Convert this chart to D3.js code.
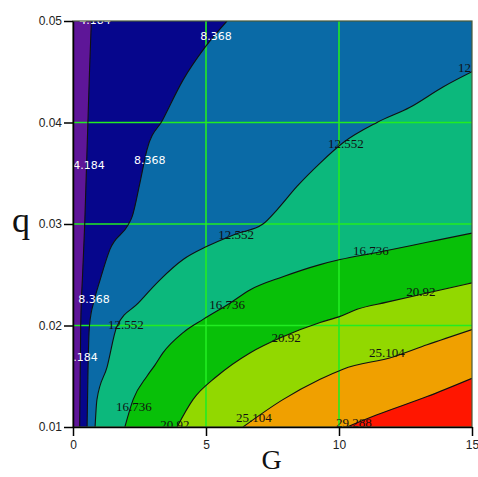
<!DOCTYPE html>
<html>
<head>
<meta charset="utf-8">
<script src="https://cdn.jsdelivr.net/npm/d3@7"></script>
<style>
  html, body { margin: 0; padding: 0; background: #fff; }
  svg { display: block; }
</style>
</head>
<body>
<svg id="chart" width="478" height="477"></svg>
<script>
// Contour levels of the field over (G, q)
const levels = [4.184, 8.368, 12.552, 16.736, 20.92, 25.104, 29.288];
// Fill of each band: below first level, between levels, above last level
const bandColors = ["#5e1698", "#06068c", "#0a6aa6", "#0cb87c", "#08c008", "#92d800", "#f0a000", "#ff1600"];

// Contour lines as [G, q] points, traced from the bottom edge upward/rightward
const c4184  = [[0.25,0.01],[0.27,0.015],[0.29,0.02],[0.36,0.025],[0.44,0.03],[0.50,0.035],[0.56,0.04],[0.62,0.045],[0.69,0.05]];
const c8368  = [[0.53,0.01],[0.56,0.015],[0.62,0.02],[0.80,0.0225],[1.02,0.0245],[1.39,0.0275],[2.07,0.0299],[2.22,0.0307],[2.52,0.0341],[2.78,0.0373],[3.38,0.0403],[4.14,0.0442],[4.96,0.0474],[5.79,0.05]];
const c12552 = [[0.83,0.01],[0.90,0.0127],[1.28,0.0159],[1.65,0.0199],[2.45,0.0222],[3.27,0.0245],[4.14,0.0265],[5.04,0.0278],[6.10,0.0290],[7.14,0.0300],[7.67,0.0314],[8.42,0.0337],[9.29,0.0360],[10.15,0.0380],[11.43,0.0400],[12.67,0.0415],[13.91,0.0435],[15,0.0450]];
const c16736 = [[1.95,0.01],[2.26,0.0127],[2.78,0.015],[3.08,0.0161],[3.38,0.0173],[4.14,0.0193],[4.89,0.0206],[5.90,0.0222],[6.65,0.0235],[7.89,0.0248],[9.29,0.0260],[10.04,0.0265],[11.43,0.0272],[13.31,0.0282],[15,0.0291]];
const c2092  = [[3.91,0.01],[4.51,0.0127],[5.41,0.015],[6.65,0.0173],[7.89,0.0189],[9.29,0.0203],[10.04,0.0209],[10.68,0.0216],[11.80,0.0223],[13.31,0.0232],[15,0.0242]];
const c25104 = [[6.39,0.01],[7.89,0.0127],[9.29,0.0147],[10.15,0.0157],[12.03,0.0169],[13.31,0.0181],[15,0.0196]];
const c29288 = [[10.30,0.01],[11.43,0.0112],[13.31,0.0130],[15,0.0148]];
const contours = [c4184, c8368, c12552, c16736, c2092, c25104, c29288];

// Inline contour labels: [level index, G, q]
const contourLabels = [
  [0, 0.83, 0.0501], [0, 0.60, 0.0358], [0, 0.34, 0.01683],
  [1, 5.38, 0.0485], [1, 2.89, 0.0363], [1, 0.79, 0.02254],
  [2, 15.15, 0.04537], [2, 10.26, 0.0379], [2, 6.13, 0.02894], [2, 1.99, 0.02008],
  [3, 11.20, 0.02736], [3, 5.79, 0.02205], [3, 2.29, 0.01201],
  [4, 13.08, 0.02333], [4, 8.01, 0.0188], [4, 3.83, 0.01024],
  [5, 11.80, 0.01732], [5, 6.80, 0.01093],
  [6, 10.56, 0.01043]
];

// Axis ticks
const gTicks = [0, 5, 10, 15];
const qTicks = [0.01, 0.02, 0.03, 0.04, 0.05];
const gDomain = [0, 15];
const qDomain = [0.01, 0.05];

const margin = { top: 21, right: 6, bottom: 50, left: 73 };
const W = 478, H = 477;
const iw = W - margin.left - margin.right;
const ih = H - margin.top - margin.bottom;

const svg = d3.select("#chart");
const g = svg.append("g").attr("transform", `translate(${margin.left},${margin.top})`);

const x = d3.scaleLinear().domain(gDomain).range([0, iw]);
const y = d3.scaleLinear().domain(qDomain).range([ih, 0]);

g.append("clipPath").attr("id", "plotClip")
  .append("rect").attr("x", 0).attr("y", 0).attr("width", iw).attr("height", ih);

const plot = g.append("g").attr("clip-path", "url(#plotClip)");

const line = d3.line()
  .x(d => x(d[0])).y(d => y(d[1]))
  .curve(d3.curveMonotoneX);

// Background band (lowest values)
plot.append("rect")
  .attr("x", 0).attr("y", 0).attr("width", iw).attr("height", ih)
  .attr("fill", bandColors[0]);

// Each higher band covers the region on the high-G / low-q side of its contour
contours.forEach((pts, i) => {
  const last = pts[pts.length - 1];
  let d = line(pts);
  if (last[1] >= qDomain[1]) {
    d += `L${x(gDomain[1])},${y(qDomain[1])}`;
  }
  d += `L${x(gDomain[1])},${y(qDomain[0])}Z`;
  plot.append("path").attr("d", d).attr("fill", bandColors[i + 1]);
});

// Grid
plot.append("g").selectAll("line").data(gTicks.slice(1, -1)).join("line")
  .attr("x1", d => x(d)).attr("x2", d => x(d))
  .attr("y1", 0).attr("y2", ih)
  .attr("stroke", "#22ec22").attr("stroke-width", 1.6);
plot.append("g").selectAll("line").data(qTicks.slice(1, -1)).join("line")
  .attr("y1", d => y(d)).attr("y2", d => y(d))
  .attr("x1", 0).attr("x2", iw)
  .attr("stroke", "#22ec22").attr("stroke-width", 1.6);

// Contour lines
plot.append("g").selectAll("path").data(contours).join("path")
  .attr("d", line)
  .attr("fill", "none")
  .attr("stroke", "#111")
  .attr("stroke-width", 1.1);

// Contour labels
plot.append("g").selectAll("text").data(contourLabels).join("text")
  .attr("x", d => x(d[1]))
  .attr("y", d => y(d[2]))
  .attr("text-anchor", "middle")
  .attr("dominant-baseline", "central")
  .attr("font-family", d => d[0] < 2 ? "DejaVu Sans, sans-serif" : "Liberation Serif, Times New Roman, serif")
  .attr("font-size", d => d[0] < 2 ? 11 : 13)
  .attr("fill", d => d[0] < 2 ? "#ffffff" : "#111")
  .text(d => String(levels[d[0]]));

// Frame
g.append("rect")
  .attr("x", 0).attr("y", 0).attr("width", iw).attr("height", ih)
  .attr("fill", "none").attr("stroke", "#4a5a3a").attr("stroke-width", 1.2);

// Axes
const yAxis = d3.axisLeft(y).tickValues(qTicks).tickFormat(d3.format(".2f"))
  .tickSize(9).tickSizeOuter(0).tickPadding(2);
const xAxis = d3.axisBottom(x).tickValues(gTicks).tickFormat(d3.format("d"))
  .tickSize(9).tickSizeOuter(0).tickPadding(4);

const ya = g.append("g").call(yAxis);
const xa = g.append("g").attr("transform", `translate(0,${ih})`).call(xAxis);
[ya, xa].forEach(a => {
  a.select(".domain").attr("stroke", "#000").attr("stroke-width", 1.5);
  a.selectAll(".tick line").attr("stroke", "#000").attr("stroke-width", 1.5);
  a.selectAll(".tick text")
    .attr("font-family", "Liberation Sans, Arial, sans-serif")
    .attr("font-size", 12)
    .attr("fill", "#222");
});

// Axis titles
svg.append("text")
  .attr("x", margin.left + iw / 2 - 1)
  .attr("y", 469)
  .attr("text-anchor", "middle")
  .attr("font-family", "Liberation Serif, Times New Roman, serif")
  .attr("font-size", 28)
  .attr("fill", "#111")
  .text("G");
svg.append("text")
  .attr("x", 21)
  .attr("y", 232)
  .attr("text-anchor", "middle")
  .attr("font-family", "Liberation Serif, Times New Roman, serif")
  .attr("font-size", 36)
  .attr("fill", "#111")
  .text("q");
</script>
</body>
</html>
